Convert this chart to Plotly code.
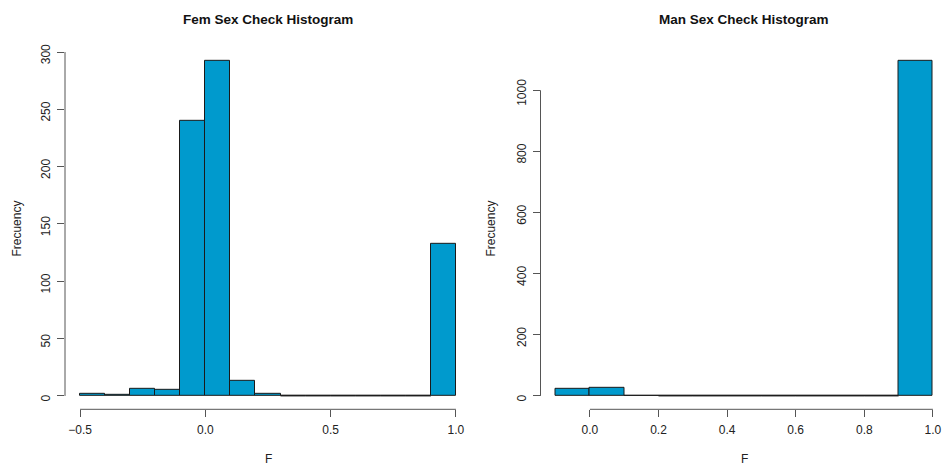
import plotly.graph_objects as go

# ---- data ----
fem_edges = [-0.5, -0.4, -0.3, -0.2, -0.1, 0.0, 0.1, 0.2, 0.3, 0.4, 0.5, 0.6, 0.7, 0.8, 0.9, 1.0]
fem_counts = [2, 1, 6, 5, 240, 292, 13, 2, 0, 0, 0, 0, 0, 0, 133]
fem_xticks = [-0.5, 0.0, 0.5, 1.0]
fem_xticktext = ["\u22120.5", "0.0", "0.5", "1.0"]
fem_yticks = [0, 50, 100, 150, 200, 250, 300]

man_edges = [-0.1, 0.0, 0.1, 0.2, 0.3, 0.4, 0.5, 0.6, 0.7, 0.8, 0.9, 1.0]
man_counts = [22, 26, 1, 0, 0, 0, 0, 0, 0, 0, 1095]
man_xticks = [0.0, 0.2, 0.4, 0.6, 0.8, 1.0]
man_xticktext = ["0.0", "0.2", "0.4", "0.6", "0.8", "1.0"]
man_yticks = [0, 200, 400, 600, 800, 1000]

titles = ["Fem Sex Check Histogram", "Man Sex Check Histogram"]
xlabel = "F"
ylabel = "Frecuency"

BAR = "rgb(0,154,205)"
AX = "#555555"
TXT = "#222222"
FONT = "Liberation Sans, Arial, sans-serif"
W, H = 946, 468

fig = go.Figure()


def add_hist(edges, counts, xa, ya):
    centers = [(edges[i] + edges[i + 1]) / 2 for i in range(len(counts))]
    widths = [edges[i + 1] - edges[i] for i in range(len(counts))]
    fig.add_trace(go.Bar(x=centers, y=counts, width=widths, xaxis=xa, yaxis=ya,
                         marker=dict(color=BAR, line=dict(color="#1a1a1a", width=1)),
                         showlegend=False, hoverinfo="x+y"))
    # zero-count bins drawn as flat lines (as R does)
    zx, zy = [], []
    for i, c in enumerate(counts):
        if c == 0:
            zx += [edges[i], edges[i + 1], None]
            zy += [0, 0, None]
    if zx:
        fig.add_trace(go.Scatter(x=zx, y=zy, mode="lines", xaxis=xa, yaxis=ya,
                                 line=dict(color="#1a1a1a", width=1),
                                 showlegend=False, hoverinfo="skip"))


add_hist(fem_edges, fem_counts, "x", "y")
add_hist(man_edges, man_counts, "x2", "y2")


def rng(lo, hi):
    d = (hi - lo) * 0.04
    return [lo - d, hi + d]


fx = rng(fem_edges[0], fem_edges[-1])
fy = rng(0, max(fem_counts))
mx = rng(man_edges[0], man_edges[-1])
my = rng(0, max(man_counts))

# panel pixel geometry
L_x0, L_x1 = 65, 471
top_px, bot_px = 44.2, 408.8
R_x0 = 540.5
m_full_px = 948.0 - R_x0
m_range_end = mx[0] + (mx[1] - mx[0]) * (W - R_x0) / m_full_px

ydom = [(H - bot_px) / H, (H - top_px) / H]

xcommon = dict(showgrid=False, zeroline=False, showline=False, ticks="outside", ticklen=7,
               tickcolor=AX, tickwidth=1, tickfont=dict(family=FONT, size=12, color=TXT),
               ticklabelstandoff=2, fixedrange=True)
ycommon = dict(showgrid=False, zeroline=False, showline=False, ticks="outside", ticklen=7,
               tickcolor=AX, tickwidth=1, tickfont=dict(family=FONT, size=12, color=TXT),
               tickangle=-90, ticklabelstandoff=2, ticklabelshift=4, fixedrange=True)

fig.update_layout(
    width=W, height=H, margin=dict(l=0, r=0, t=0, b=0),
    paper_bgcolor="white", plot_bgcolor="white", bargap=0,
    xaxis=dict(domain=[L_x0 / W, L_x1 / W], range=fx, anchor="y",
               tickvals=fem_xticks, ticktext=fem_xticktext, **xcommon),
    yaxis=dict(domain=ydom, range=fy, anchor="x", tickvals=fem_yticks, **ycommon),
    xaxis2=dict(domain=[R_x0 / W, 1.0], range=[mx[0], m_range_end], anchor="y2",
                tickvals=man_xticks, ticktext=man_xticktext, **xcommon),
    yaxis2=dict(domain=ydom, range=my, anchor="x2", tickvals=man_yticks, **ycommon),
)

# R-style axis lines spanning only the tick range
for xa, ya, xt, yt in [("x", "y", fem_xticks, fem_yticks), ("x2", "y2", man_xticks, man_yticks)]:
    fig.add_shape(type="line", xref=xa, yref=ya + " domain", x0=xt[0], x1=xt[-1], y0=0, y1=0,
                  line=dict(color=AX, width=1))
    fig.add_shape(type="line", xref=xa + " domain", yref=ya, x0=0, x1=0, y0=yt[0], y1=yt[-1],
                  line=dict(color=AX, width=1))

# titles and axis labels
centers_px = [(L_x0 + L_x1) / 2, 744]
ylab_px = [17, 491]
for i in range(2):
    fig.add_annotation(text="<b>" + titles[i] + "</b>", xref="paper", yref="paper",
                       x=centers_px[i] / W, y=1 - 16 / H, showarrow=False,
                       xanchor="center", yanchor="middle",
                       font=dict(family=FONT, size=13.5, color="#111111"))
    fig.add_annotation(text=xlabel, xref="paper", yref="paper",
                       x=centers_px[i] / W, y=1 - 459 / H, showarrow=False,
                       xanchor="center", yanchor="middle",
                       font=dict(family=FONT, size=12, color=TXT))
    fig.add_annotation(text=ylabel, xref="paper", yref="paper", textangle=-90,
                       x=ylab_px[i] / W, y=1 - ((top_px + bot_px) / 2) / H, showarrow=False,
                       xanchor="center", yanchor="middle",
                       font=dict(family=FONT, size=12, color=TXT))

fig.write_html("out.html")
